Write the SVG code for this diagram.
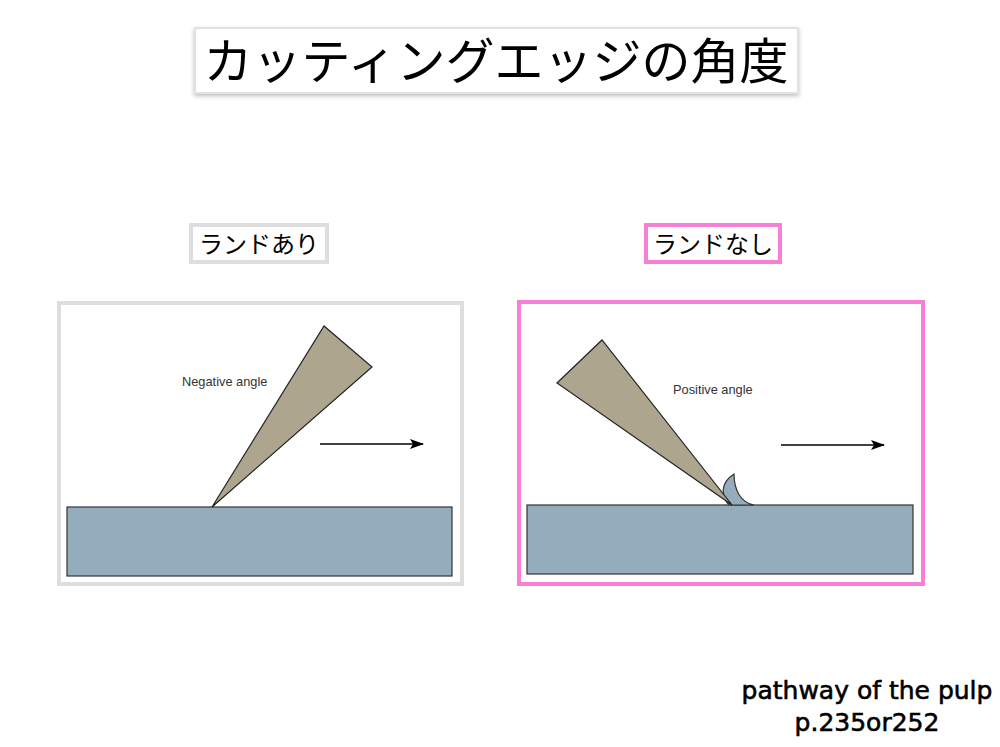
<svg xmlns="http://www.w3.org/2000/svg" width="1000" height="747" viewBox="0 0 1000 747">
<defs>
<filter id="shadow" x="-5%" y="-20%" width="110%" height="150%">
<feDropShadow dx="0" dy="2" stdDeviation="2" flood-color="#000" flood-opacity="0.25"/>
</filter>
<marker id="arrow" viewBox="0 0 14 10" refX="13" refY="5" markerWidth="14" markerHeight="10" markerUnits="userSpaceOnUse" orient="auto">
<path d="M0,0 L14,5 L0,10 L3,5 Z" fill="#000"/>
</marker>
</defs>
<style>
.jp{font-family:"Noto Sans CJK JP","Noto Sans",sans-serif;fill:#000}
.en{font-family:"Liberation Sans",Arial,sans-serif;font-size:12.8px;fill:#333}
.grayframe{fill:#fff;stroke:#dedede;stroke-width:4}
.pinkframe{fill:#fff;stroke:#f77fd6;stroke-width:4}
.work{fill:#95acbc;stroke:#333;stroke-width:1.2}
.tool{fill:#ada58d;stroke:#222;stroke-width:1.2;stroke-linejoin:miter}
.arr{stroke:#000;stroke-width:1.5;fill:none}
.foot{font-family:"DejaVu Sans",sans-serif;font-size:25px;fill:#000;stroke:#000;stroke-width:0.6}
</style>
<rect width="1000" height="747" fill="#fff"/>

<g id="title">
<rect x="195" y="28" width="603" height="65" fill="#fff" stroke="#e2e2e2" stroke-width="2" filter="url(#shadow)"/>
<text class="jp" x="496" y="79" font-size="49" text-anchor="middle">カッティングエッジの角度</text>
</g>

<g id="label-land-ari">
<rect x="191" y="225" width="136" height="37" fill="#fff" stroke="#dedede" stroke-width="4"/>
<text class="jp" x="259" y="253" font-size="24" text-anchor="middle">ランドあり</text>
</g>

<g id="label-land-nashi">
<rect x="646" y="225" width="134" height="37" fill="#fff" stroke="#f77fd6" stroke-width="4"/>
<text class="jp" x="713" y="253" font-size="24" text-anchor="middle">ランドなし</text>
</g>

<g id="panel-negative">
<rect class="grayframe" x="59" y="303" width="403" height="281"/>
<rect class="work" x="67" y="507" width="385" height="69"/>
<polygon class="tool" points="212,507 324,326 372,367"/>
<text class="en" x="182" y="386">Negative angle</text>
</g>

<g id="panel-positive">
<rect class="pinkframe" x="519" y="302" width="404" height="282"/>
<rect class="work" x="527" y="505" width="386" height="69"/>
<path class="work" d="M729,505 C721,496 720,483 734,474 C734,490 741,503 754,505 Z"/>
<polygon class="tool" points="732,505 602,340 557,383"/>
<text class="en" x="673" y="394">Positive angle</text>
</g>

<g id="connectors">
<line class="arr" x1="320" y1="444" x2="423" y2="444" marker-end="url(#arrow)"/>
<line class="arr" x1="781" y1="445" x2="884" y2="445" marker-end="url(#arrow)"/>
</g>

<g id="footer">
<text class="foot" x="867" y="699" text-anchor="middle">pathway of the pulp</text>
<text class="foot" x="867" y="731" text-anchor="middle">p.235or252</text>
</g>
</svg>
